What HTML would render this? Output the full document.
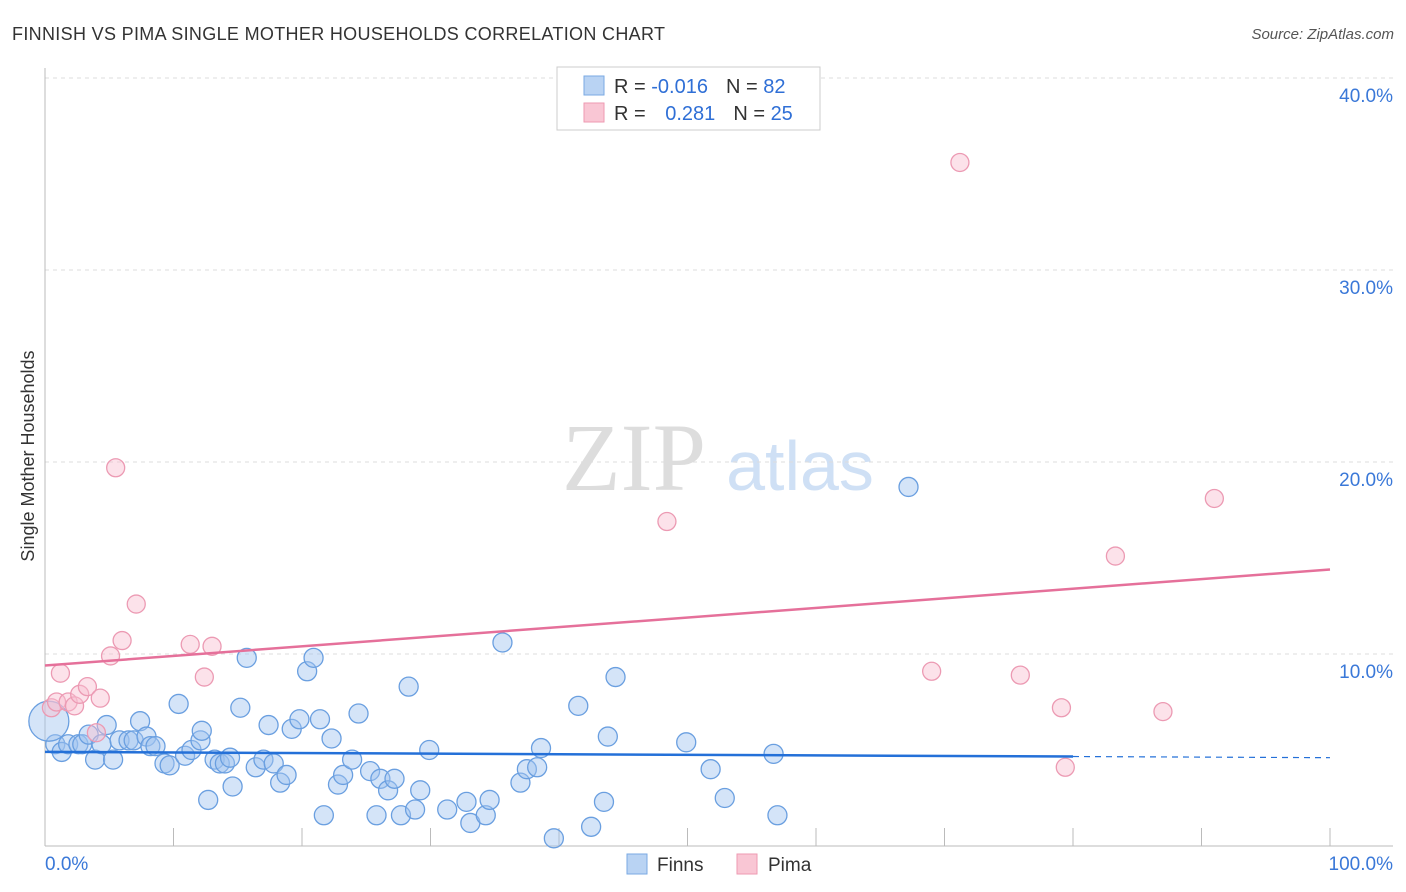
<!DOCTYPE html>
<html><head><meta charset="utf-8"><style>
body{margin:0;background:#fff;font-family:"Liberation Sans",sans-serif;}
svg{display:block}
</style></head><body>
<svg id="chart" width="1406" height="892" xmlns="http://www.w3.org/2000/svg">
<text x="12" y="40" font-size="18" fill="#333" textLength="653">FINNISH VS PIMA SINGLE MOTHER HOUSEHOLDS CORRELATION CHART</text>
<text x="1394" y="39" font-size="15" fill="#555" font-style="italic" text-anchor="end">Source: ZipAtlas.com</text>
<text x="34" y="456" font-size="18" fill="#333" transform="rotate(-90 34 456)" text-anchor="middle">Single Mother Households</text>
<text x="634" y="490" font-size="96" fill="#ddd" font-family="Liberation Serif,serif" text-anchor="middle">ZIP</text>
<text x="800" y="490" font-size="70" fill="#cfe0f5" text-anchor="middle">atlas</text>
<g id="grid"></g><g id="marks"></g>
<g>
<rect x="557" y="67" width="263" height="63" fill="#fff" stroke="#ccc"/>
<rect x="584" y="76" width="20" height="19" fill="#b9d3f3" stroke="#7aa9e3"/>
<rect x="584" y="103" width="20" height="19" fill="#f9c6d4" stroke="#ee9ab2"/>
<text x="614" y="93" font-size="20" fill="#333">R = <tspan fill="#2f6fd6">-0.016</tspan><tspan dx="18">N = </tspan><tspan fill="#2f6fd6">82</tspan></text>
<text x="614" y="120" font-size="20" fill="#333">R = <tspan dx="14" fill="#2f6fd6">0.281</tspan><tspan dx="18">N = </tspan><tspan fill="#2f6fd6">25</tspan></text>
</g>
<g>
<rect x="627" y="854" width="20" height="20" fill="#b9d3f3" stroke="#7aa9e3"/>
<text x="657" y="871" font-size="19" fill="#333">Finns</text>
<rect x="737" y="854" width="20" height="20" fill="#f9c6d4" stroke="#ee9ab2"/>
<text x="768" y="871" font-size="19" fill="#333">Pima</text>
</g>
<text x="45" y="870" font-size="19" fill="#3a78d8">0.0%</text>
<text x="1393" y="870" font-size="19" fill="#3a78d8" text-anchor="end">100.0%</text>
</svg>
<script>
const yTicks=[10,20,30,40];
const yTickLabels=["10.0%","20.0%","30.0%","40.0%"];
const finnsX=[0.8,1.3,1.8,2.6,2.9,3.4,3.9,4.4,4.8,5.3,5.8,6.5,6.9,7.4,7.9,8.2,8.6,9.3,9.7,10.4,10.9,11.4,12.1,12.2,12.7,13.2,13.6,14.0,14.4,14.6,15.2,15.7,16.4,17.0,17.4,17.8,18.3,18.8,19.2,19.8,20.4,20.9,21.4,21.7,22.3,22.8,23.2,23.9,24.4,25.3,25.8,26.1,26.7,27.2,27.7,28.3,28.8,29.2,29.9,31.3,32.8,33.1,34.3,34.6,35.6,37.0,37.5,38.3,38.6,39.6,41.5,42.5,43.5,43.8,44.4,49.9,51.8,52.9,56.7,57.0,67.2,0.3];
const finnsY=[5.3,4.9,5.3,5.3,5.3,5.8,4.5,5.3,6.3,4.5,5.5,5.5,5.5,6.5,5.7,5.2,5.2,4.3,4.2,7.4,4.7,5.0,5.5,6.0,2.4,4.5,4.3,4.3,4.6,3.1,7.2,9.8,4.1,4.5,6.3,4.3,3.3,3.7,6.1,6.6,9.1,9.8,6.6,1.6,5.6,3.2,3.7,4.5,6.9,3.9,1.6,3.5,2.9,3.5,1.6,8.3,1.9,2.9,5.0,1.9,2.3,1.2,1.6,2.4,10.6,3.3,4.0,4.1,5.1,0.4,7.3,1.0,2.3,5.7,8.8,5.4,4.0,2.5,4.8,1.6,18.7,6.5];
const finnsR=[9.5,9.5,9.5,9.5,9.5,9.5,9.5,9.5,9.5,9.5,9.5,9.5,9.5,9.5,9.5,9.5,9.5,9.5,9.5,9.5,9.5,9.5,9.5,9.5,9.5,9.5,9.5,9.5,9.5,9.5,9.5,9.5,9.5,9.5,9.5,9.5,9.5,9.5,9.5,9.5,9.5,9.5,9.5,9.5,9.5,9.5,9.5,9.5,9.5,9.5,9.5,9.5,9.5,9.5,9.5,9.5,9.5,9.5,9.5,9.5,9.5,9.5,9.5,9.5,9.5,9.5,9.5,9.5,9.5,9.5,9.5,9.5,9.5,9.5,9.5,9.5,9.5,9.5,9.5,9.5,9.5,20];
const pimaX=[0.5,0.9,1.2,1.8,2.3,2.7,3.3,4.0,4.3,5.1,5.5,6.0,7.1,11.3,12.4,13.0,48.4,69.0,71.2,75.9,79.1,79.4,83.3,87.0,91.0];
const pimaY=[7.2,7.5,9.0,7.5,7.3,7.9,8.3,5.9,7.7,9.9,19.7,10.7,12.6,10.5,8.8,10.4,16.9,9.1,35.6,8.9,7.2,4.1,15.1,7.0,18.1];
const finnsTrend=[4.9,4.6];
const pimaTrend=[9.4,14.4];
const X0=45,X1=1330,Y0=846,PY=19.2;
const sx=v=>X0+(X1-X0)*v/100, sy=v=>Y0-PY*v;
const NS="http://www.w3.org/2000/svg";
function mk(t,a,p){const e=document.createElementNS(NS,t);for(const k in a)e.setAttribute(k,a[k]);p.appendChild(e);return e;}
const grid=document.getElementById('grid'),marks=document.getElementById('marks');
yTicks.forEach((t,i)=>{
 const l=mk('line',{x1:45,x2:1393,y1:sy(t),y2:sy(t),stroke:'#ddd','stroke-dasharray':'4,4'},grid);
 
 
 const tx=mk('text',{x:1393,y:sy(t)+24,'font-size':19,fill:'#3a78d8','text-anchor':'end'},grid);
 tx.textContent=yTickLabels[i];
 
 
});
const ax=mk('line',{x1:45,x2:45,y1:68,y2:846,stroke:'#bbb'},grid);


const bx=mk('line',{x1:45,x2:1393,y1:846,y2:846,stroke:'#bbb'},grid);


for(let i=1;i<=10;i++){const t=mk('line',{x1:sx(i*10),x2:sx(i*10),y1:828,y2:846,stroke:'#bbb'},grid);
 
 }
finnsX.forEach((x,i)=>{const c=mk('circle',{cx:sx(x),cy:sy(finnsY[i]),r:finnsR[i],fill:'rgba(160,196,240,0.45)',stroke:'#6a9fe0','stroke-width':1.3},marks);
 
 });
pimaX.forEach((x,i)=>{const c=mk('circle',{cx:sx(x),cy:sy(pimaY[i]),r:9,fill:'rgba(248,190,208,0.45)',stroke:'#ec9ab3','stroke-width':1.3},marks);
 
 });
const fy=x=>finnsTrend[0]+(finnsTrend[1]-finnsTrend[0])*x/100;
let l1=mk('line',{x1:sx(0),y1:sy(fy(0)),x2:sx(80),y2:sy(fy(80)),stroke:'#2470d8','stroke-width':2.5},marks);


let l2=mk('line',{x1:sx(80),y1:sy(fy(80)),x2:sx(100),y2:sy(fy(100)),stroke:'#2470d8','stroke-width':1.2,'stroke-dasharray':'6,5'},marks);


let l3=mk('line',{x1:sx(0),y1:sy(pimaTrend[0]),x2:sx(100),y2:sy(pimaTrend[1]),stroke:'#e5709a','stroke-width':2.5},marks);


</script>
</body></html>
